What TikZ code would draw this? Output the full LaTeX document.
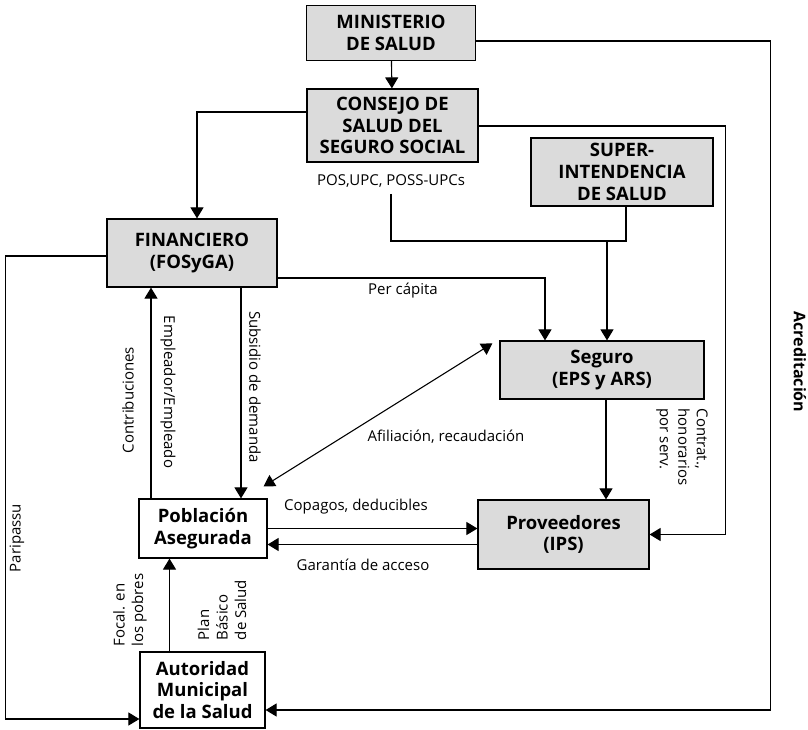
\documentclass[tikz,border=0pt]{standalone}
\usepackage{fontspec}
\setmainfont{Open Sans}
\usetikzlibrary{positioning}
\usetikzlibrary{calc}
\usetikzlibrary{arrows.meta}
\tikzset{
    % Broad filled heads, as in the printed chart
    >={Triangle[width=13pt,length=11pt]},
%
    % Shaded box for the institutions
    agency box/.style={
        draw, line width=1.2pt, fill=black!14, align=center,
        inner sep=0, font=\fontsize{18.5}{21.7}\selectfont\bfseries},
%
    % Same box, left white, for people and local level
    plain box/.style={agency box, fill=white},
%
    % Text set along the connectors
    flow label/.style={
        font=\fontsize{15}{18.5}\selectfont, inner sep=0, align=left}}

\begin{document}
\begin{tikzpicture}[x=1pt, y=-1pt, line width=1.1pt]

% Page frame

\path [fill=white] (0,0) rectangle (808,730);

\node [agency box, minimum width=169pt, minimum height=55pt]
    (ministerio) at (391,33) {MINISTERIO\\DE SALUD};
\node [agency box, minimum width=171pt, minimum height=73pt]
    (consejo) at (392.5,125.5) {CONSEJO DE\\SALUD DEL\\SEGURO SOCIAL};
\node [agency box, minimum width=182pt, minimum height=68pt]
    (super) at (622,172) {SUPER-\\INTENDENCIA\\DE SALUD};
\node [agency box, minimum width=170pt, minimum height=68pt]
    (financiero) at (192,253) {FINANCIERO\\(FOSyGA)};
\node [agency box, minimum width=204pt, minimum height=58pt]
    (seguro) at (602,370) {Seguro\\(EPS y ARS)};
\node [agency box, minimum width=171pt, minimum height=69pt]
    (proveedores) at (563.5,534.5) {Proveedores\\(IPS)};
\node [plain box, minimum width=128pt, minimum height=59pt]
    (poblacion) at (203,528.5) {Población\\Asegurada};
\node [plain box, minimum width=125pt, minimum height=76pt]
    (autoridad) at (202.5,690) {Autoridad\\Municipal\\de la Salud};

\node [flow label, inner sep=6pt] (pos) at (391,181) {POS,UPC, POSS-UPCs};
\coordinate (pos join) at (607,241);

% Flows from the top

\draw [->] (ministerio) -- (consejo);
\draw [->] ([yshift=13.5pt]consejo.west) -| ([xshift=5pt]financiero.north);
\draw [->] ([yshift=-0.5pt]consejo.east) -- ++(247,0) |- (proveedores.east);
\draw [->] ([yshift=-8pt]ministerio.east) -- ++(294,0) |- ([yshift=-20pt]autoridad.east);
\draw (pos.south) |- ([xshift=4pt]super.south |- pos join) -- ([xshift=4pt]super.south);
\draw [->] (pos join) -- (pos join |- seguro.north);
\draw [->] ([yshift=-25pt]financiero.east) -| ([xshift=-57pt]seguro.north);

% Flows round the insured

\draw [->] ([xshift=-52pt]poblacion.north) -- ([xshift=-52pt]poblacion.north |- financiero.south);
\draw [->] ([xshift=49pt]financiero.south) -- ([xshift=49pt]financiero.south |- poblacion.north);
\draw [<->] ([shift={(-4pt,12pt)}]poblacion.north east) -- ([shift={(-7pt,-3pt)}]seguro.north west);
\draw [->] ([xshift=4pt]seguro.south) -- ([xshift=4pt]seguro.south |- proveedores.north);
\draw [->] (poblacion.east) -- (poblacion.east -| proveedores.west);
\draw [->] ([yshift=-16pt]poblacion.east -| proveedores.west) -- ([yshift=-16pt]poblacion.east);
\draw [->] ([xshift=-33pt]autoridad.north) -- ([xshift=-33pt]autoridad.north |- poblacion.south);
\draw [->] ([yshift=-3pt]financiero.west) -- ++(-101,0) |- ([yshift=-29pt]autoridad.west);

% Labels

\node [flow label] (percapita) at (403,291) {Per cápita};
\node [flow label, rotate=90] (contribuciones) at (128,400) {Contribuciones};
\node [flow label, rotate=-90] (empleador) at (168,392) {Empleador/Empleado};
\node [flow label, rotate=-90] (subsidio) at (255,387) {Subsidio de demanda};
\node [flow label] (afiliacion) at (446,437) {Afiliación, recaudación};
\node [flow label, rotate=-90] (contrat) at (682,447) {Contrat.,\\honorarios\\por serv.};
\node [flow label, rotate=-90, font=\fontsize{16}{18.5}\selectfont\bfseries]
    (acreditacion) at (800,362) {Acreditación};
\node [flow label] (copagos) at (356,507) {Copagos, deducibles};
\node [flow label] (garantia) at (363,565) {Garantía de acceso};
\node [flow label, rotate=90] (focal) at (130,610) {Focal. en\\los pobres};
\node [flow label, rotate=90] (plan) at (222,610) {Plan\\Básico\\de Salud};
\node [flow label, rotate=90] (paripassu) at (17,538) {Paripassu};

\end{tikzpicture}
\end{document}
